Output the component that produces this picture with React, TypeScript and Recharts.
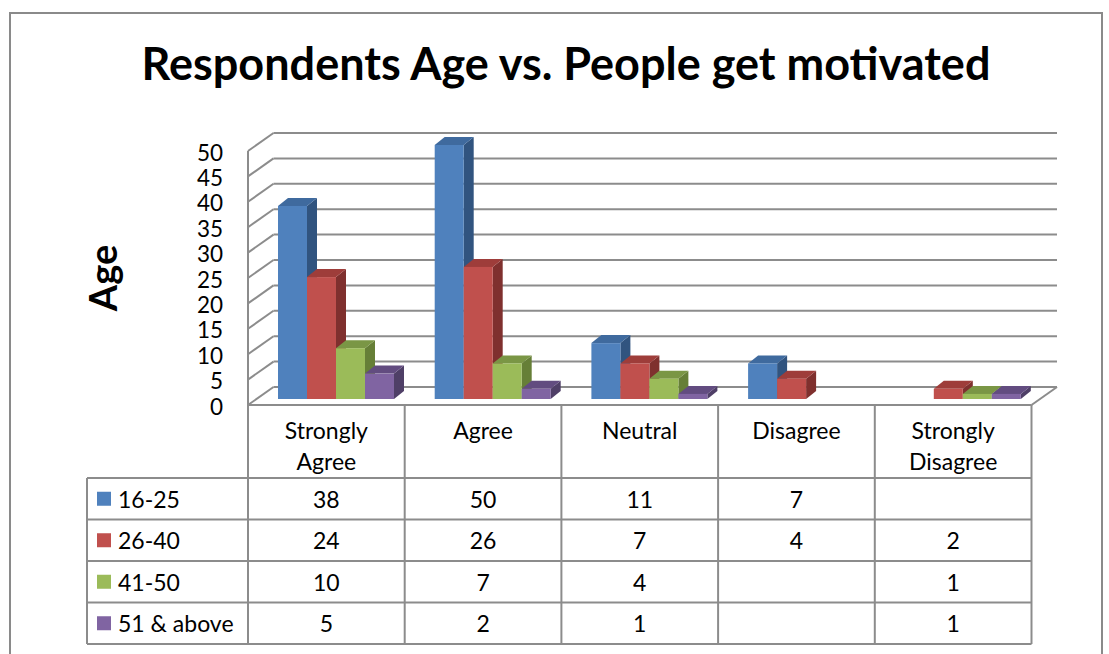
import { BarChart, Bar, XAxis, YAxis, CartesianGrid } from "recharts";

const CATEGORIES = ["Strongly Agree", "Agree", "Neutral", "Disagree", "Strongly Disagree"];
const HEADER_LINES = [["Strongly", "Agree"], ["Agree"], ["Neutral"], ["Disagree"], ["Strongly", "Disagree"]];
const AGE_16_25 = [38, 50, 11, 7, null];
const AGE_26_40 = [24, 26, 7, 4, 2];
const AGE_41_50 = [10, 7, 4, null, 1];
const AGE_51_UP = [5, 2, 1, null, 1];
const Y_TICKS = [0, 5, 10, 15, 20, 25, 30, 35, 40, 45, 50];

const SERIES = [
  { key: "s1", name: "16-25", values: AGE_16_25, front: "#4F81BD", top: "#3F6A9E", side: "#31547F" },
  { key: "s2", name: "26-40", values: AGE_26_40, front: "#C0504D", top: "#9E3D3A", side: "#7F302E" },
  { key: "s3", name: "41-50", values: AGE_41_50, front: "#9BBB59", top: "#7A9645", side: "#667F37" },
  { key: "s4", name: "51 & above", values: AGE_51_UP, front: "#8064A2", top: "#624C80", side: "#4F3F67" },
];

const data = CATEGORIES.map((category, i) => {
  const row: Record<string, string | number | null> = { category };
  SERIES.forEach((s) => (row[s.key] = s.values[i]));
  return row;
});

const W = 1109;
const H = 654;
const FONT = "Lato, 'Liberation Sans', sans-serif";
const TEXT_SIZE = 23;
const GRID = "#8c8c8c";

// plot plane = front face of the bars
const MARGIN = { top: 145, right: 68.5, bottom: 255, left: 197 };
const Y_AXIS_W = 60;
const PLOT_LEFT = MARGIN.left + Y_AXIS_W;
const PLOT_RIGHT = W - MARGIN.right;
const BAND = (PLOT_RIGHT - PLOT_LEFT) / CATEGORIES.length;

// wall offsets relative to the bar plane
const FRONT = { dx: -9, dy: 6 };
const BACK = { dx: 16.5, dy: -12 };
// bar depth
const DEPTH = { dx: 10, dy: -8 };

// data table geometry
const TABLE_LEFT = 87;
const COL_LEFT = PLOT_LEFT + FRONT.dx;
const HEADER_TOP = H - MARGIN.bottom + FRONT.dy;
const HEADER_BOTTOM = 478;
const ROW_H = 41.5;

function Bar3D(props: any) {
  const { x, y, width, height, value, series } = props;
  if (value == null || !height) return null;
  const { dx, dy } = DEPTH;
  const r = x + width;
  const b = y + height;
  return (
    <g>
      <polygon points={`${r},${y} ${r + dx},${y + dy} ${r + dx},${b + dy} ${r},${b}`} fill={series.side} />
      <polygon points={`${x},${y} ${x + dx},${y + dy} ${r + dx},${y + dy} ${r},${y}`} fill={series.top} />
      <rect x={x} y={y} width={width} height={height} fill={series.front} />
    </g>
  );
}

function WallLine(props: any) {
  const { x1, x2, y1, index, x, y, width, height } = props;
  const bottom = y + height;
  const common = { stroke: GRID, strokeWidth: 2 };
  return (
    <g key={`wall-${index}`}>
      <line x1={x1 + BACK.dx} y1={y1 + BACK.dy} x2={x2 + BACK.dx} y2={y1 + BACK.dy} {...common} />
      <line x1={x1 + FRONT.dx} y1={y1 + FRONT.dy} x2={x1 + BACK.dx} y2={y1 + BACK.dy} {...common} />
      {index === 0 && (
        <>
          <line x1={x + FRONT.dx} y1={y + FRONT.dy} x2={x + FRONT.dx} y2={bottom + FRONT.dy} {...common} />
          <line
            x1={x + width + FRONT.dx}
            y1={bottom + FRONT.dy}
            x2={x + width + BACK.dx}
            y2={bottom + BACK.dy}
            {...common}
          />
        </>
      )}
    </g>
  );
}

function YTick(props: any) {
  const { y, payload } = props;
  return (
    <text x={223} y={y + 7} textAnchor="end" dominantBaseline="central" fontFamily={FONT} fontSize={22.5} fill="#000">
      {payload.value}
    </text>
  );
}

function DataTable() {
  const rowsTop = HEADER_BOTTOM;
  const tableBottom = rowsTop + ROW_H * SERIES.length;
  const colX = CATEGORIES.map((_, i) => COL_LEFT + i * BAND);
  const right = COL_LEFT + CATEGORIES.length * BAND;
  const line = { stroke: GRID, strokeWidth: 2 };
  return (
    <svg width={W} height={H} style={{ position: "absolute", left: 0, top: 0, pointerEvents: "none" }}>
      <line x1={COL_LEFT} y1={HEADER_TOP} x2={right} y2={HEADER_TOP} {...line} />
      {SERIES.map((_, i) => (
        <line key={`h${i}`} x1={TABLE_LEFT} y1={rowsTop + i * ROW_H} x2={right} y2={rowsTop + i * ROW_H} {...line} />
      ))}
      <line x1={TABLE_LEFT} y1={tableBottom} x2={right} y2={tableBottom} {...line} />
      <line x1={TABLE_LEFT} y1={rowsTop} x2={TABLE_LEFT} y2={tableBottom} {...line} />
      {[...colX, right].map((cx, i) => (
        <line key={`v${i}`} x1={cx} y1={HEADER_TOP} x2={cx} y2={tableBottom} {...line} />
      ))}
      {HEADER_LINES.map((lines, i) =>
        lines.map((t, j) => (
          <text
            key={`hd${i}-${j}`}
            x={colX[i] + BAND / 2}
            y={HEADER_TOP + 25 + j * 31}
            textAnchor="middle"
            dominantBaseline="central"
            fontFamily={FONT}
            fontSize={TEXT_SIZE}
          >
            {t}
          </text>
        ))
      )}
      {SERIES.map((s, r) => {
        const cy = rowsTop + r * ROW_H + ROW_H / 2;
        return (
          <g key={s.key}>
            <rect x={97} y={cy - 7} width={14} height={14} fill={s.front} />
            <text x={118} y={cy} dominantBaseline="central" fontFamily={FONT} fontSize={TEXT_SIZE}>
              {s.name}
            </text>
            {s.values.map((v, c) =>
              v == null ? null : (
                <text
                  key={c}
                  x={colX[c] + BAND / 2}
                  y={cy}
                  textAnchor="middle"
                  dominantBaseline="central"
                  fontFamily={FONT}
                  fontSize={TEXT_SIZE}
                >
                  {v}
                </text>
              )
            )}
          </g>
        );
      })}
    </svg>
  );
}

export default function App() {
  return (
    <div
      style={{
        position: "absolute",
        left: 0,
        top: 0,
        width: W,
        height: H,
        overflow: "hidden",
        background: "#fff",
      }}
    >
      <div
        style={{
          position: "absolute",
          left: 9,
          top: 12,
          width: 1090,
          height: 700,
          border: "2px solid #8a8a8a",
        }}
      />
      <div
        style={{
          position: "absolute",
          left: 0,
          width: 1132,
          top: 36,
          textAlign: "center",
          fontFamily: FONT,
          fontWeight: 700,
          fontSize: 45,
          lineHeight: "54px",
        }}
      >
        Respondents Age vs. People get motivated
      </div>
      <div
        style={{
          position: "absolute",
          left: 102,
          top: 278,
          transform: "translate(-50%, -50%) rotate(-90deg)",
          fontFamily: FONT,
          fontWeight: 700,
          fontSize: 38,
          whiteSpace: "nowrap",
        }}
      >
        Age
      </div>
      <div style={{ position: "absolute", left: 0, top: 0 }}>
        <BarChart width={W} height={H} data={data} margin={MARGIN} barCategoryGap={21} barGap={0}>
          <CartesianGrid horizontal={WallLine} vertical={false} />
          <XAxis dataKey="category" hide />
          <YAxis
            width={Y_AXIS_W}
            domain={[0, 50]}
            ticks={Y_TICKS}
            interval={0}
            axisLine={false}
            tickLine={false}
            tick={YTick}
          />
          {SERIES.map((s) => (
            <Bar
              key={s.key}
              dataKey={s.key}
              name={s.name}
              fill={s.front}
              isAnimationActive={false}
              shape={(p: any) => <Bar3D {...p} series={s} />}
            />
          ))}
        </BarChart>
      </div>
      <DataTable />
    </div>
  );
}
